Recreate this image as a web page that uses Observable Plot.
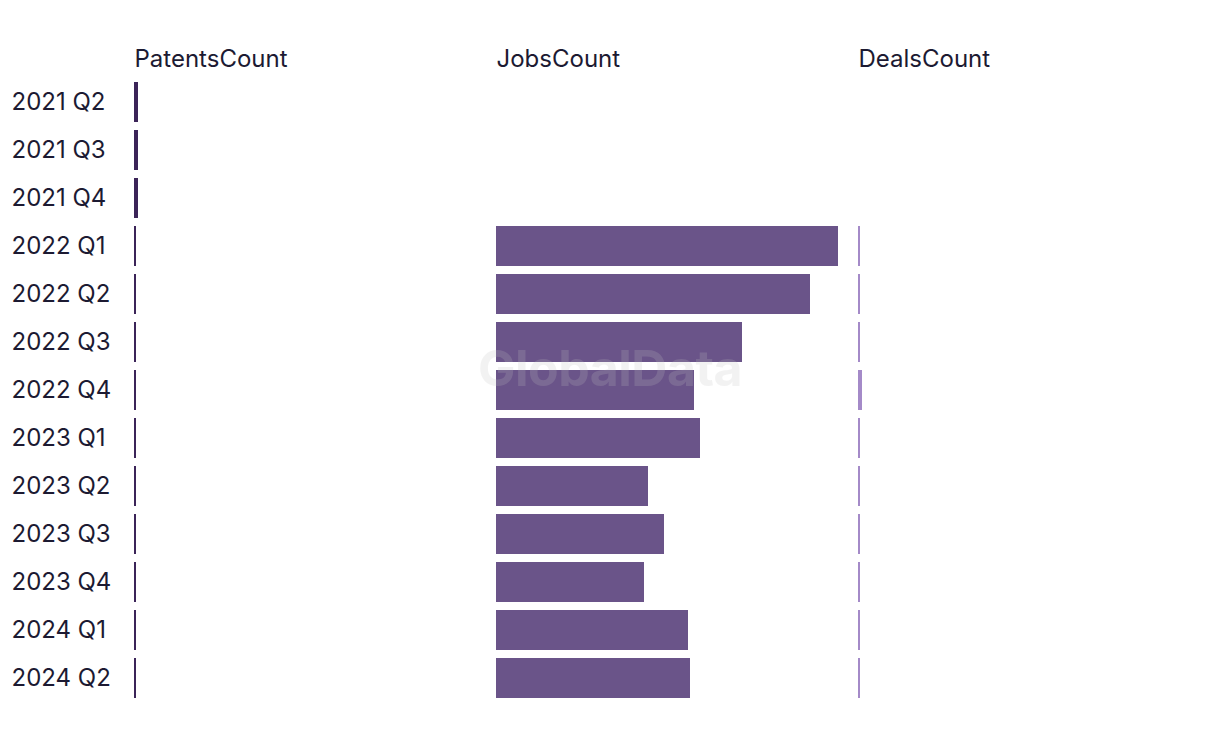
<!DOCTYPE html>
<html>
<head>
<meta charset="utf-8">
<script src="https://cdn.jsdelivr.net/npm/d3@7"></script>
<script src="https://cdn.jsdelivr.net/npm/@observablehq/plot@0.6"></script>
<style>
  html, body { margin: 0; padding: 0; background: #fff; }
  #wrap { position: relative; width: 1220px; height: 740px; }
  #wm { position: absolute; left: 0; width: 1220px; top: 338px; text-align: center;
        font-family: Inter, "Liberation Sans", sans-serif; font-weight: 700; font-size: 50px;
        color: #c1c1c1; opacity: 0.2; pointer-events: none; letter-spacing: -0.5px; }
</style>
</head>
<body>
<div id="wrap"><div id="wm">GlobalData</div></div>
<script>
const quarters = ["2021 Q2","2021 Q3","2021 Q4","2022 Q1","2022 Q2","2022 Q3","2022 Q4","2023 Q1","2023 Q2","2023 Q3","2023 Q4","2024 Q1","2024 Q2"];
const metrics = ["PatentsCount","JobsCount","DealsCount"];
const patentsCount = [2,2,2,1,1,1,1,1,1,1,1,1,1];
const jobsCount = [null,null,null,171,157,123,99,102,76,84,74,96,97];
const dealsCount = [null,null,null,1,1,1,2,1,1,1,1,1,1];
const colors = ["#3b2458","#6a5489","#a48ac8"];

const series = [patentsCount, jobsCount, dealsCount];
const rows = [];
metrics.forEach((m, i) => quarters.forEach((q, j) => {
  const v = series[i][j];
  if (v != null) rows.push({metric: m, quarter: q, value: v});
}));

const textColor = "#1c1a32";
const chart = Plot.plot({
  width: 1220,
  height: 740,
  marginTop: 74,
  marginBottom: 34,
  marginLeft: 134,
  marginRight: 20,
  style: {fontFamily: "Inter, 'Liberation Sans', sans-serif", fontSize: "24px", color: textColor, background: "transparent"},
  fx: {domain: metrics, paddingInner: 20/362, paddingOuter: 0, round: false, axis: null},
  y: {domain: quarters, padding: 8/48, round: false, axis: null},
  x: {domain: [0, 171], axis: null},
  color: {domain: metrics, range: colors},
  marks: [
    Plot.barX(rows, {fx: "metric", y: "quarter", x: "value", fill: "metric"}),
    Plot.axisY({tickSize: 0, textAnchor: "start", dx: -114, label: null, fontSize: 24, fill: textColor}),
    Plot.text(metrics, {fx: d => d, text: d => d, frameAnchor: "top-left", lineAnchor: "bottom", textAnchor: "start", dy: -8, fontSize: 24, fill: textColor})
  ]
});
document.getElementById("wrap").prepend(chart);
chart.style.position = "absolute";
chart.style.left = "0";
chart.style.top = "0";
</script>
</body>
</html>
